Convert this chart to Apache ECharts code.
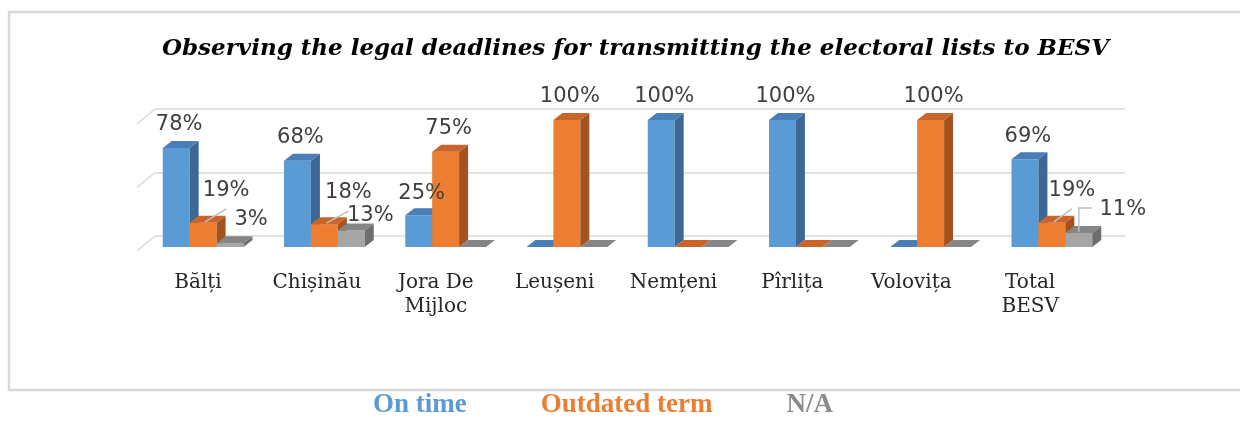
<!DOCTYPE html>
<html>
<head>
<meta charset="utf-8">
<script src="https://cdn.jsdelivr.net/npm/echarts@6/dist/echarts.min.js"></script>
<style>
  html, body { margin: 0; padding: 0; background: #ffffff; }
  #chart { width: 1240px; height: 421px; }
</style>
</head>
<body>
<div id="chart"></div>
<script>
// ---- data ----
const categories = ['Bălți', 'Chișinău', 'Jora De\nMijloc', 'Leușeni', 'Nemțeni', 'Pîrlița', 'Volovița', 'Total\nBESV'];
const seriesNames = ['On time', 'Outdated term', 'N/A'];
const onTime = [78, 68, 25, 0, 100, 100, 0, 69];
const outdated = [19, 18, 75, 100, 0, 0, 100, 19];
const notAvailable = [3, 13, 0, 0, 0, 0, 0, 11];
const yTicks = [0, 50, 100];

// ---- styles ----
const FACE = [
  { front: '#5B9BD5', top: '#4A7EB6', side: '#3C6893', text: '#5B9BD5' },
  { front: '#ED7D31', top: '#C9652A', side: '#A4531F', text: '#ED7D31' },
  { front: '#A5A5A5', top: '#858585', side: '#6E6E6E', text: '#8C8C8C' }
];
const FRONT_DX = -12.5, FRONT_DY = 11;   // bar front plane vs back wall
const DEPTH_X = 9, DEPTH_Y = 7;          // bar depth
const BAR_FRAC = 0.222;                  // bar width as share of category band
// manual label nudges (series index : category index)
const LABEL_NUDGE = {
  '1:0': { dx: 20, dy: -9, leader: 'diag' },
  '2:0': { dx: 18, dy: 0 },
  '1:1': { dx: 21, dy: -8, leader: 'diag' },
  '2:1': { dx: 16, dy: 8 },
  '0:2': { dx: 0, dy: 2 },
  '1:7': { dx: 17, dy: -9, leader: 'diag' },
  '2:7': { dx: 41, dy: 0, leader: 'elbow' }
};
const LABEL_FONT = '21px "DejaVu Sans"';
const LEADER_COLOR = '#BFBFBF';

function barRenderer(si) {
  const c = FACE[si];
  return function (params, api) {
    const ci = api.value(0), v = api.value(1);
    const base = api.coord([ci, 0]);
    const topP = api.coord([ci, v]);
    const band = api.size([1, 0])[0];
    const w = band * BAR_FRAC;
    const cx = base[0] + FRONT_DX + (si - 1) * w;
    const x0 = cx - w / 2, x1 = cx + w / 2;
    const yb = base[1] + FRONT_DY, yt = topP[1] + FRONT_DY;
    const children = [];
    if (yb - yt > 0.5) {
      children.push({ type: 'rect', shape: { x: x0, y: yt, width: w, height: yb - yt }, style: { fill: c.front } });
      children.push({ type: 'polygon', shape: { points: [[x1, yt], [x1 + DEPTH_X, yt - DEPTH_Y], [x1 + DEPTH_X, yb - DEPTH_Y], [x1, yb]] }, style: { fill: c.side } });
    }
    children.push({ type: 'polygon', shape: { points: [[x0, yt], [x0 + DEPTH_X, yt - DEPTH_Y], [x1 + DEPTH_X, yt - DEPTH_Y], [x1, yt]] }, style: { fill: c.top } });
    if (v > 0) {
      const n = LABEL_NUDGE[si + ':' + ci] || { dx: 0, dy: 0 };
      const lx = cx + 3 + n.dx;
      const baseline = yt - 16 + n.dy;
      children.push({ type: 'text', style: { text: v + '%', x: lx, y: baseline - 7.3, align: 'center', verticalAlign: 'middle', font: LABEL_FONT, fill: '#404040' }, z2: 10 });
      if (n.leader === 'diag') {
        children.push({ type: 'line', shape: { x1: cx + 2, y1: yt - 1, x2: lx, y2: baseline + 11 }, style: { stroke: LEADER_COLOR, lineWidth: 1.5 }, z2: 9 });
      } else if (n.leader === 'elbow') {
        const yh = baseline - 9;
        children.push({ type: 'polyline', shape: { points: [[cx, yt - 1], [cx, yh], [lx - 31, yh]] }, style: { stroke: LEADER_COLOR, lineWidth: 1.5, fill: null }, z2: 9 });
      }
    }
    return { type: 'group', children: children };
  };
}

function floorRenderer(params, api) {
  const p = api.coord([0, api.value(1)]);
  const left = params.coordSys.x;
  return { type: 'line', shape: { x1: left, y1: p[1], x2: left - 18, y2: p[1] + 15 }, style: { stroke: '#D9D9D9', lineWidth: 1.5 } };
}

const seriesData = [onTime, outdated, notAvailable];
const series = seriesData.map((arr, si) => ({
  name: seriesNames[si],
  type: 'custom',
  xAxisIndex: 0, yAxisIndex: 0,
  renderItem: barRenderer(si),
  itemStyle: { color: FACE[si].front },
  encode: { x: 0, y: 1 },
  data: arr.map((v, i) => [i, v]),
  z: 3
}));
series.unshift({
  type: 'custom', name: 'floor', xAxisIndex: 0, yAxisIndex: 0,
  renderItem: floorRenderer, silent: true, z: 1,
  encode: { x: 0, y: 1 },
  data: yTicks.map(v => [0, v])
});

const chart = echarts.init(document.getElementById('chart'), null, { renderer: 'canvas' });
chart.setOption({
  animation: false,
  backgroundColor: '#ffffff',
  title: {
    text: 'Observing the legal deadlines for transmitting the electoral lists to BESV',
    left: 157, top: 33,
    textStyle: { fontFamily: 'DejaVu Serif', fontStyle: 'italic', fontWeight: 'bold', fontSize: 23, color: '#000000' }
  },
  graphic: [{
    type: 'rect', shape: { x: 9, y: 12, width: 1250, height: 378 },
    style: { fill: null, stroke: '#D9D9D9', lineWidth: 2.5 }, silent: true, z: -10
  }],
  legend: {
    data: seriesNames.map((n, i) => ({ name: n, icon: 'none', textStyle: { color: FACE[i].text } })),
    left: 363, top: 387, itemWidth: 0, itemHeight: 0, itemGap: 69,
    textStyle: { fontFamily: 'Liberation Serif', fontWeight: 'bold', fontSize: 27 },
    selectedMode: false
  },
  grid: [
    { left: 155, right: 115, top: 109, bottom: 185 },
    { left: 138.6, right: 150.4, top: 109, bottom: 185 }
  ],
  xAxis: [
    { type: 'category', gridIndex: 0, data: categories, axisLine: { show: false }, axisTick: { show: false }, axisLabel: { show: false }, splitLine: { show: false } },
    { type: 'category', gridIndex: 1, data: categories, axisLine: { show: false }, axisTick: { show: false },
      axisLabel: { margin: 35, fontFamily: 'DejaVu Serif', fontSize: 20, lineHeight: 24, color: '#262626', interval: 0 } }
  ],
  yAxis: [
    { type: 'value', gridIndex: 0, min: 0, max: 100, interval: 50, axisLabel: { show: false }, axisLine: { show: false }, axisTick: { show: false },
      splitLine: { show: true, lineStyle: { color: '#D9D9D9', width: 1.5 } } },
    { type: 'value', gridIndex: 1, min: 0, max: 100, show: false, splitLine: { show: false } }
  ],
  series: series
});
</script>
</body>
</html>
